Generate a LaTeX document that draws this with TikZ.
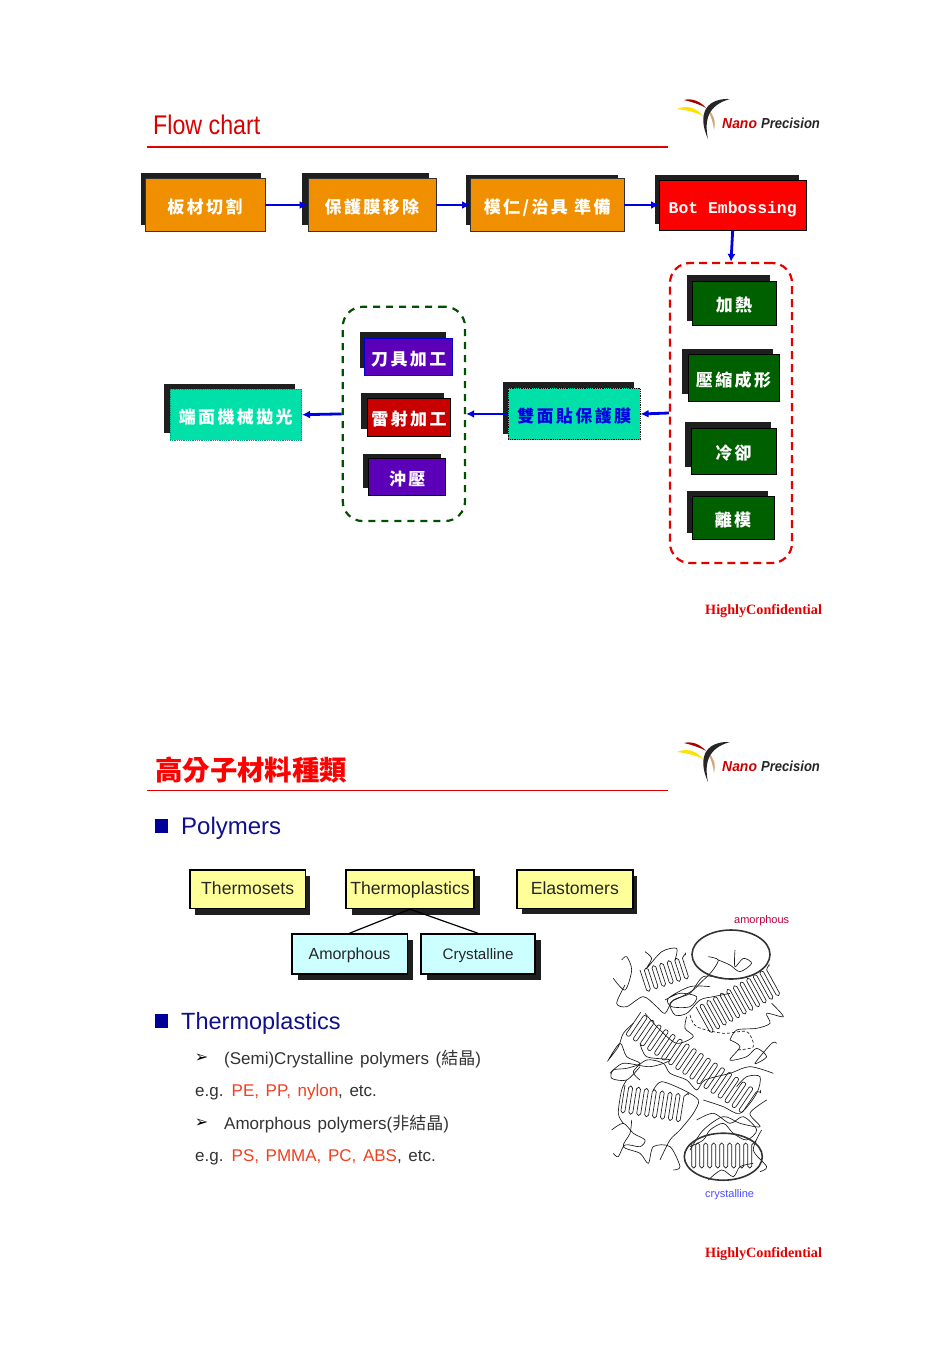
\documentclass[tikz,border=0pt]{standalone}
\usepackage{fontspec}
\setmainfont{Liberation Sans}
\newfontfamily\cjk{Noto Sans CJK TC}
\newfontfamily\cjkwide[LetterSpace=14]{Noto Sans CJK TC}
\newfontfamily\btnmono{Liberation Mono}
\newfontfamily\confserif{Liberation Serif}
\newfontfamily\dingfont{DejaVu Sans}
\newfontfamily\widesans[WordSpace=1.4]{Liberation Sans}
\usetikzlibrary{arrows.meta}
\definecolor{orangefill}{HTML}{F09000}
\definecolor{heatgreen}{HTML}{006000}
\definecolor{teal}{HTML}{00E0A8}
\definecolor{purplefill}{HTML}{5B00B8}
\definecolor{laserred}{HTML}{C80000}
\definecolor{bulletblue}{HTML}{000099}
\definecolor{headblue}{HTML}{10108C}
\definecolor{palered}{HTML}{F04020}
\definecolor{boxyellow}{HTML}{FFFF99}
\definecolor{boxcyan}{HTML}{CCFFFF}
\newcommand\fsz[1]{\fontsize{#1}{#1}\selectfont}
\newcommand\npclogo[2]{
	\begin{scope}[yshift=-#1pt]
		\fill [yellow!85!orange] (677,109) .. controls (686,105) and (696,107) .. (703,116) .. controls (695,112) and (686,110) .. (677,109);
		\fill [red!65!black] (684,100) .. controls (692,98) and (700,101) .. (706,108) .. controls (699,104) and (692,102) .. (684,100);
		\fill [brown!70] (708,110) .. controls (714,114) and (716,122) .. (714,130) .. controls (713,122) and (711,116) .. (708,110);
		\fill [black!85] (730,99) .. controls (708,98) and (696,112) .. (708,139) .. controls (704,120) and (708,105) .. (730,99);
		\node [anchor=base west, inner sep=0, text=red!80!black] (#2nano) at (722,128) {\fsz{14.5}\scalebox{0.96}[1]{\bfseries\itshape Nano}};
		\node [anchor=base west, inner sep=0, text=black!85] (#2prec) at (761,128) {\fsz{14.5}\scalebox{0.9}[1]{\bfseries\itshape Precision}};
	\end{scope}
}
\newcommand\lamella[7]{
	\begin{scope}[shift={(#1,#2)}, rotate=#3]
		\draw [chain, rounded corners=#6*0.48] (0,0) \foreach \k in {1,...,#4} { -- ++(0,#5) -- ++(#6,0) -- ++(0,-#5) -- ++(#6,0) } -- ++(0,#7);
	\end{scope}
}
\tikzset{
	boxshadow/.style={fill=black!88},
	flowtext/.style={text=white, inner sep=0, text height=17, text depth=0, font=\fsz{17}\bfseries\cjkwide},
	orangebox/.style={flowtext, draw=black!80, line width=0.8, fill=orangefill},
	redbox/.style={flowtext, draw=black, line width=0.8, fill=red},
	greenbox/.style={flowtext, draw=black, line width=0.8, fill=heatgreen},
	tealbox/.style={flowtext, draw=black, densely dotted, line width=0.8, fill=teal},
	purplebox/.style={flowtext, draw=black, line width=0.8, fill=purplefill},
	flowarrow/.style={blue!90!black, line width=2.8, -{Latex[length=8,width=8]}},
	groupbox/.style={rounded corners=20, line width=2.2, inner sep=0},
	polybox/.style={draw=black, line width=1.5, inner sep=0, text=black!85, text height=13.5, text depth=2.5},
	textline/.style={anchor=base west, inner sep=0, text=black!80, font=\fsz{17}\widesans},
	chain/.style={black!90, line width=0.65},
}
\begin{document}
\begin{tikzpicture}[x=1pt, y=-1pt]
	\useasboundingbox [fill=white] (0,0) rectangle (950,1345);

	\node [anchor=base west, inner sep=0, text=red!85!black] (titleflow) at (153,134) {\fsz{27}\scalebox{0.86}[1]{Flow chart}};
	\draw [red!90!black, line width=1.8] (147,146.7) -- (668,146.7);
	\npclogo{0}{a}

	\fill [boxshadow] (141,173) rectangle (261,225);
	\fill [boxshadow] (302,173) rectangle (429,225);
	\fill [boxshadow] (466,174.5) rectangle (618,225);
	\fill [boxshadow] (655,174.5) rectangle (799,224);
	\fill [boxshadow] (687,274.5) rectangle (770,321);
	\fill [boxshadow] (682,348.5) rectangle (773,394);
	\fill [boxshadow] (685,421.5) rectangle (771,467);
	\fill [boxshadow] (687,490.5) rectangle (768,533);
	\fill [boxshadow] (503,381.7) rectangle (634,434);
	\fill [boxshadow] (360,332) rectangle (446,368);
	\fill [boxshadow] (361,392.7) rectangle (444,428.7);
	\fill [boxshadow] (363,454) rectangle (441,488);
	\fill [boxshadow] (164,383.7) rectangle (295,433);

	\node [orangebox, minimum width=120, minimum height=53] (cut) at (205,205) {板材切割};
	\node [orangebox, minimum width=128, minimum height=53] (film) at (372,205) {保護膜移除};
	\node [orangebox, minimum width=153.5, minimum height=53] (mold) at (547.2,205) {模仁/治具 準備};
	\node [redbox, minimum width=146.5, minimum height=50, font=\fsz{16.4}\bfseries\btnmono] (hot) at (732.7,205) {Bot Embossing};

	\node [greenbox, minimum width=84, minimum height=44.5] (heat) at (734,303.2) {加熱};
	\node [greenbox, minimum width=91, minimum height=46.5] (press) at (733.5,377.7) {壓縮成形};
	\node [greenbox, minimum width=85, minimum height=46] (cool) at (733.5,451) {冷卻};
	\node [greenbox, minimum width=82, minimum height=43] (demold) at (733,517.5) {離模};
	\node [groupbox, draw=red!90!black, dash pattern=on 8 off 5, minimum width=122, minimum height=300] (heatgroup) at (731,413) {};

	\node [tealbox, minimum width=132, minimum height=51.5, text=blue!90!black] (twoside) at (574.2,414) {雙面貼保護膜};

	\node [purplebox, draw=blue!80!black, minimum width=88, minimum height=36.7] (tool) at (408.8,356.7) {刀具加工};
	\node [purplebox, fill=laserred, minimum width=83.5, minimum height=37.3] (laser) at (409,417.3) {雷射加工};
	\node [purplebox, minimum width=77, minimum height=36.7] (punch) at (407.2,476.7) {沖壓};
	\node [groupbox, draw=heatgreen!85!black, dash pattern=on 7 off 6, minimum width=122.3, minimum height=214.3] (toolgroup) at (403.9,413.9) {};

	\node [tealbox, draw=teal!70!black, minimum width=131.7, minimum height=50.7] (polish) at (235.8,414.7) {端面機械拋光};

	\draw [flowarrow, line width=1.8] (cut.east) -- (film.west);
	\draw [flowarrow] (film.east) -- (mold.west);
	\draw [flowarrow] (mold.east) -- (hot.west);
	\draw [flowarrow] (hot.south) -- (heatgroup.north);
	\draw [flowarrow] (heatgroup.west) -- (twoside.east);
	\draw [flowarrow, line width=1.8] (twoside.west) -- (toolgroup.east);
	\draw [flowarrow] (toolgroup.west) -- (polish.east);

	\node [anchor=base west, inner sep=0, text=red!90!black] (confa) at (705,614.5) {\fsz{14.2}\confserif\bfseries HighlyConfidential};

	\node [anchor=base west, inner sep=0, text=red] (titlepoly) at (155,780) {\fsz{27.4}\cjk\bfseries 高分子材料種類};
	\draw [red!85!black, line width=1] (147,790.5) -- (668,790.5);
	\npclogo{643}{b}

	\fill [bulletblue] (155,819) rectangle (168,833);
	\node [anchor=base west, inner sep=0, text=headblue] (headpoly) at (181,834.5) {\fsz{24}Polymers};

	\fill [boxshadow] (195,876) rectangle (310,914.5);
	\fill [boxshadow] (352,876) rectangle (480,915);
	\fill [boxshadow] (522,876) rectangle (637,914);
	\fill [boxshadow] (298,940) rectangle (413,979.5);
	\fill [boxshadow] (427,940) rectangle (541,979.5);

	\node [polybox, fill=boxyellow, minimum width=115.5, minimum height=38.5, font=\fsz{17.6}] (thermoset) at (247.7,889.2) {Thermosets};
	\node [polybox, fill=boxyellow, minimum width=128, minimum height=38.5, font=\fsz{17.6}] (thermoplastic) at (410,889.2) {Thermoplastics};
	\node [polybox, fill=boxyellow, minimum width=116, minimum height=38.5, font=\fsz{17.6}] (elastomer) at (574.8,889.2) {Elastomers};
	\node [polybox, fill=boxcyan, minimum width=115.5, minimum height=40, font=\fsz{16}] (amorph) at (349.5,954) {Amorphous};
	\node [polybox, fill=boxcyan, minimum width=114, minimum height=40, font=\fsz{15.2}] (crystal) at (478,954) {Crystalline};
	\draw [black, line width=1.2] (thermoplastic.south) -- (amorph.north);
	\draw [black, line width=1.2] (thermoplastic.south) -- (crystal.north);

	\fill [bulletblue] (155,1014) rectangle (168,1028);
	\node [anchor=base west, inner sep=0, text=headblue] (headplastic) at (181,1029.5) {\fsz{23.5}Thermoplastics};

	\node [inner sep=0] (arrowa) at (201.5,1058.5) {\fsz{16}\dingfont ➢};
	\node [textline] (semi) at (224,1064.5) {(Semi)Crystalline polymers ({\cjk 結晶})};
	\node [textline] (ega) at (195,1096) {e.g. \textcolor{palered}{PE, PP, nylon}, etc.};
	\node [inner sep=0] (arrowb) at (201.5,1123) {\fsz{16}\dingfont ➢};
	\node [textline] (amor) at (224,1129) {Amorphous polymers({\cjk 非結晶})};
	\node [textline] (egb) at (195,1161) {e.g. \textcolor{palered}{PS, PMMA, PC, ABS}, etc.};

	\node [anchor=base west, inner sep=0, text=red!75!blue] (amlabel) at (734,923) {\fsz{11}amorphous};
	\node [anchor=base west, inner sep=0, text=blue!70!white] (crlabel) at (705,1197) {\fsz{11}crystalline};

	\lamella{640}{970}{18}{6}{23}{4}{0}
	\lamella{696}{1007}{29}{11}{30}{3.8}{0}
	\lamella{640.7}{1012.3}{-34}{17}{27}{4.25}{0}
	\lamella{625}{1085}{-9}{8}{28}{4}{0}
	\lamella{691.7}{1143}{0}{8}{25}{4}{0}

	\begin{scope}[shift={(590,900)}, x=0.3333pt, y=-0.3333pt]
		\draw [chain] plot [smooth] coordinates {(70,235) (105,270) (125,210) (110,170) (95,180)};
		\draw [chain] plot [smooth] coordinates {(105,255) (80,310) (110,320) (160,290) (200,320) (225,340) (250,300) (300,280) (340,230) (400,235)};
		\draw [chain] plot [smooth] coordinates {(165,155) (185,175) (170,205) (215,155) (260,145) (255,180)};
		\draw [chain] plot [smooth] coordinates {(355,170) (385,180) (365,215) (330,250) (310,270) (275,290) (240,310) (255,345) (290,340) (330,300) (370,290) (420,280)};
		\draw [chain] plot [smooth] coordinates {(435,150) (435,200) (460,175) (485,190) (450,215) (420,195) (385,180)};
		\draw [chain] plot [smooth] coordinates {(290,350) (285,385) (310,410) (260,430) (210,390) (165,340)};
		\draw [chain] plot [smooth] coordinates {(130,370) (100,400) (85,440) (55,480) (90,430) (110,470) (150,490) (110,505) (70,510) (65,535) (110,540) (150,500)};
		\draw [chain] plot [smooth] coordinates {(150,540) (130,515) (170,480) (220,490) (240,520) (290,540) (320,570) (345,540) (420,520) (480,500) (550,520)};
		\draw [chain] plot [smooth] coordinates {(420,420) (440,390) (500,385) (540,370) (530,340) (580,350) (545,310)};
		\draw [chain] plot [smooth] coordinates {(420,420) (450,440) (420,480) (470,470) (500,445) (530,470) (495,490) (545,430) (560,430)};
		\draw [chain] plot [smooth] coordinates {(190,570) (215,545) (280,570) (325,600) (310,640) (270,690) (240,720) (210,780)};
		\draw [chain] plot [smooth] coordinates {(65,690) (100,670) (130,700) (165,720) (150,740) (105,735) (85,770) (70,760)};
		\draw [chain] plot [smooth] coordinates {(125,660) (120,700) (100,740) (150,760) (175,790) (190,740) (240,740) (270,800) (250,810)};
		\draw [chain] plot [smooth] coordinates {(320,660) (370,640) (420,670) (460,650) (500,690) (470,720) (430,700) (400,670) (360,690) (340,720) (300,740)};
		\draw [chain] plot [smooth] coordinates {(340,600) (400,620) (450,640) (500,580) (510,530) (470,530) (440,560)};
		\draw [chain] plot [smooth] coordinates {(515,690) (490,750) (530,800) (510,815)};
		\draw [chain] plot [smooth] coordinates {(355,840) (395,810) (430,830) (450,800) (490,790)};
		\draw [chain] plot [smooth] coordinates {(225,300) (270,280) (320,290) (300,320) (245,320) (235,295) (300,260) (360,260)};
		\draw [chain, densely dashed] plot [smooth] coordinates {(300,345) (320,380) (400,400) (470,395) (490,440) (440,450)};
		\draw [chain] plot [smooth] coordinates {(60,520) (100,490) (180,500) (240,480) (170,470) (150,430)};
		\draw [chain] plot [smooth] coordinates {(300,750) (340,690) (400,650) (450,670) (510,680) (480,640) (530,600)};
		\draw [chain] plot [smooth] coordinates {(110,540) (95,570) (85,640) (100,670)};
	\end{scope}
	\draw [black!80, line width=1.6] (731,954.5) ellipse [x radius=39, y radius=24.5];
	\draw [black!80, line width=1.6] (723.3,1156.7) ellipse [x radius=39, y radius=23.5];

	\node [anchor=base west, inner sep=0, text=red!90!black] (confb) at (705,1257.5) {\fsz{14.2}\confserif\bfseries HighlyConfidential};
\end{tikzpicture}
\end{document}
